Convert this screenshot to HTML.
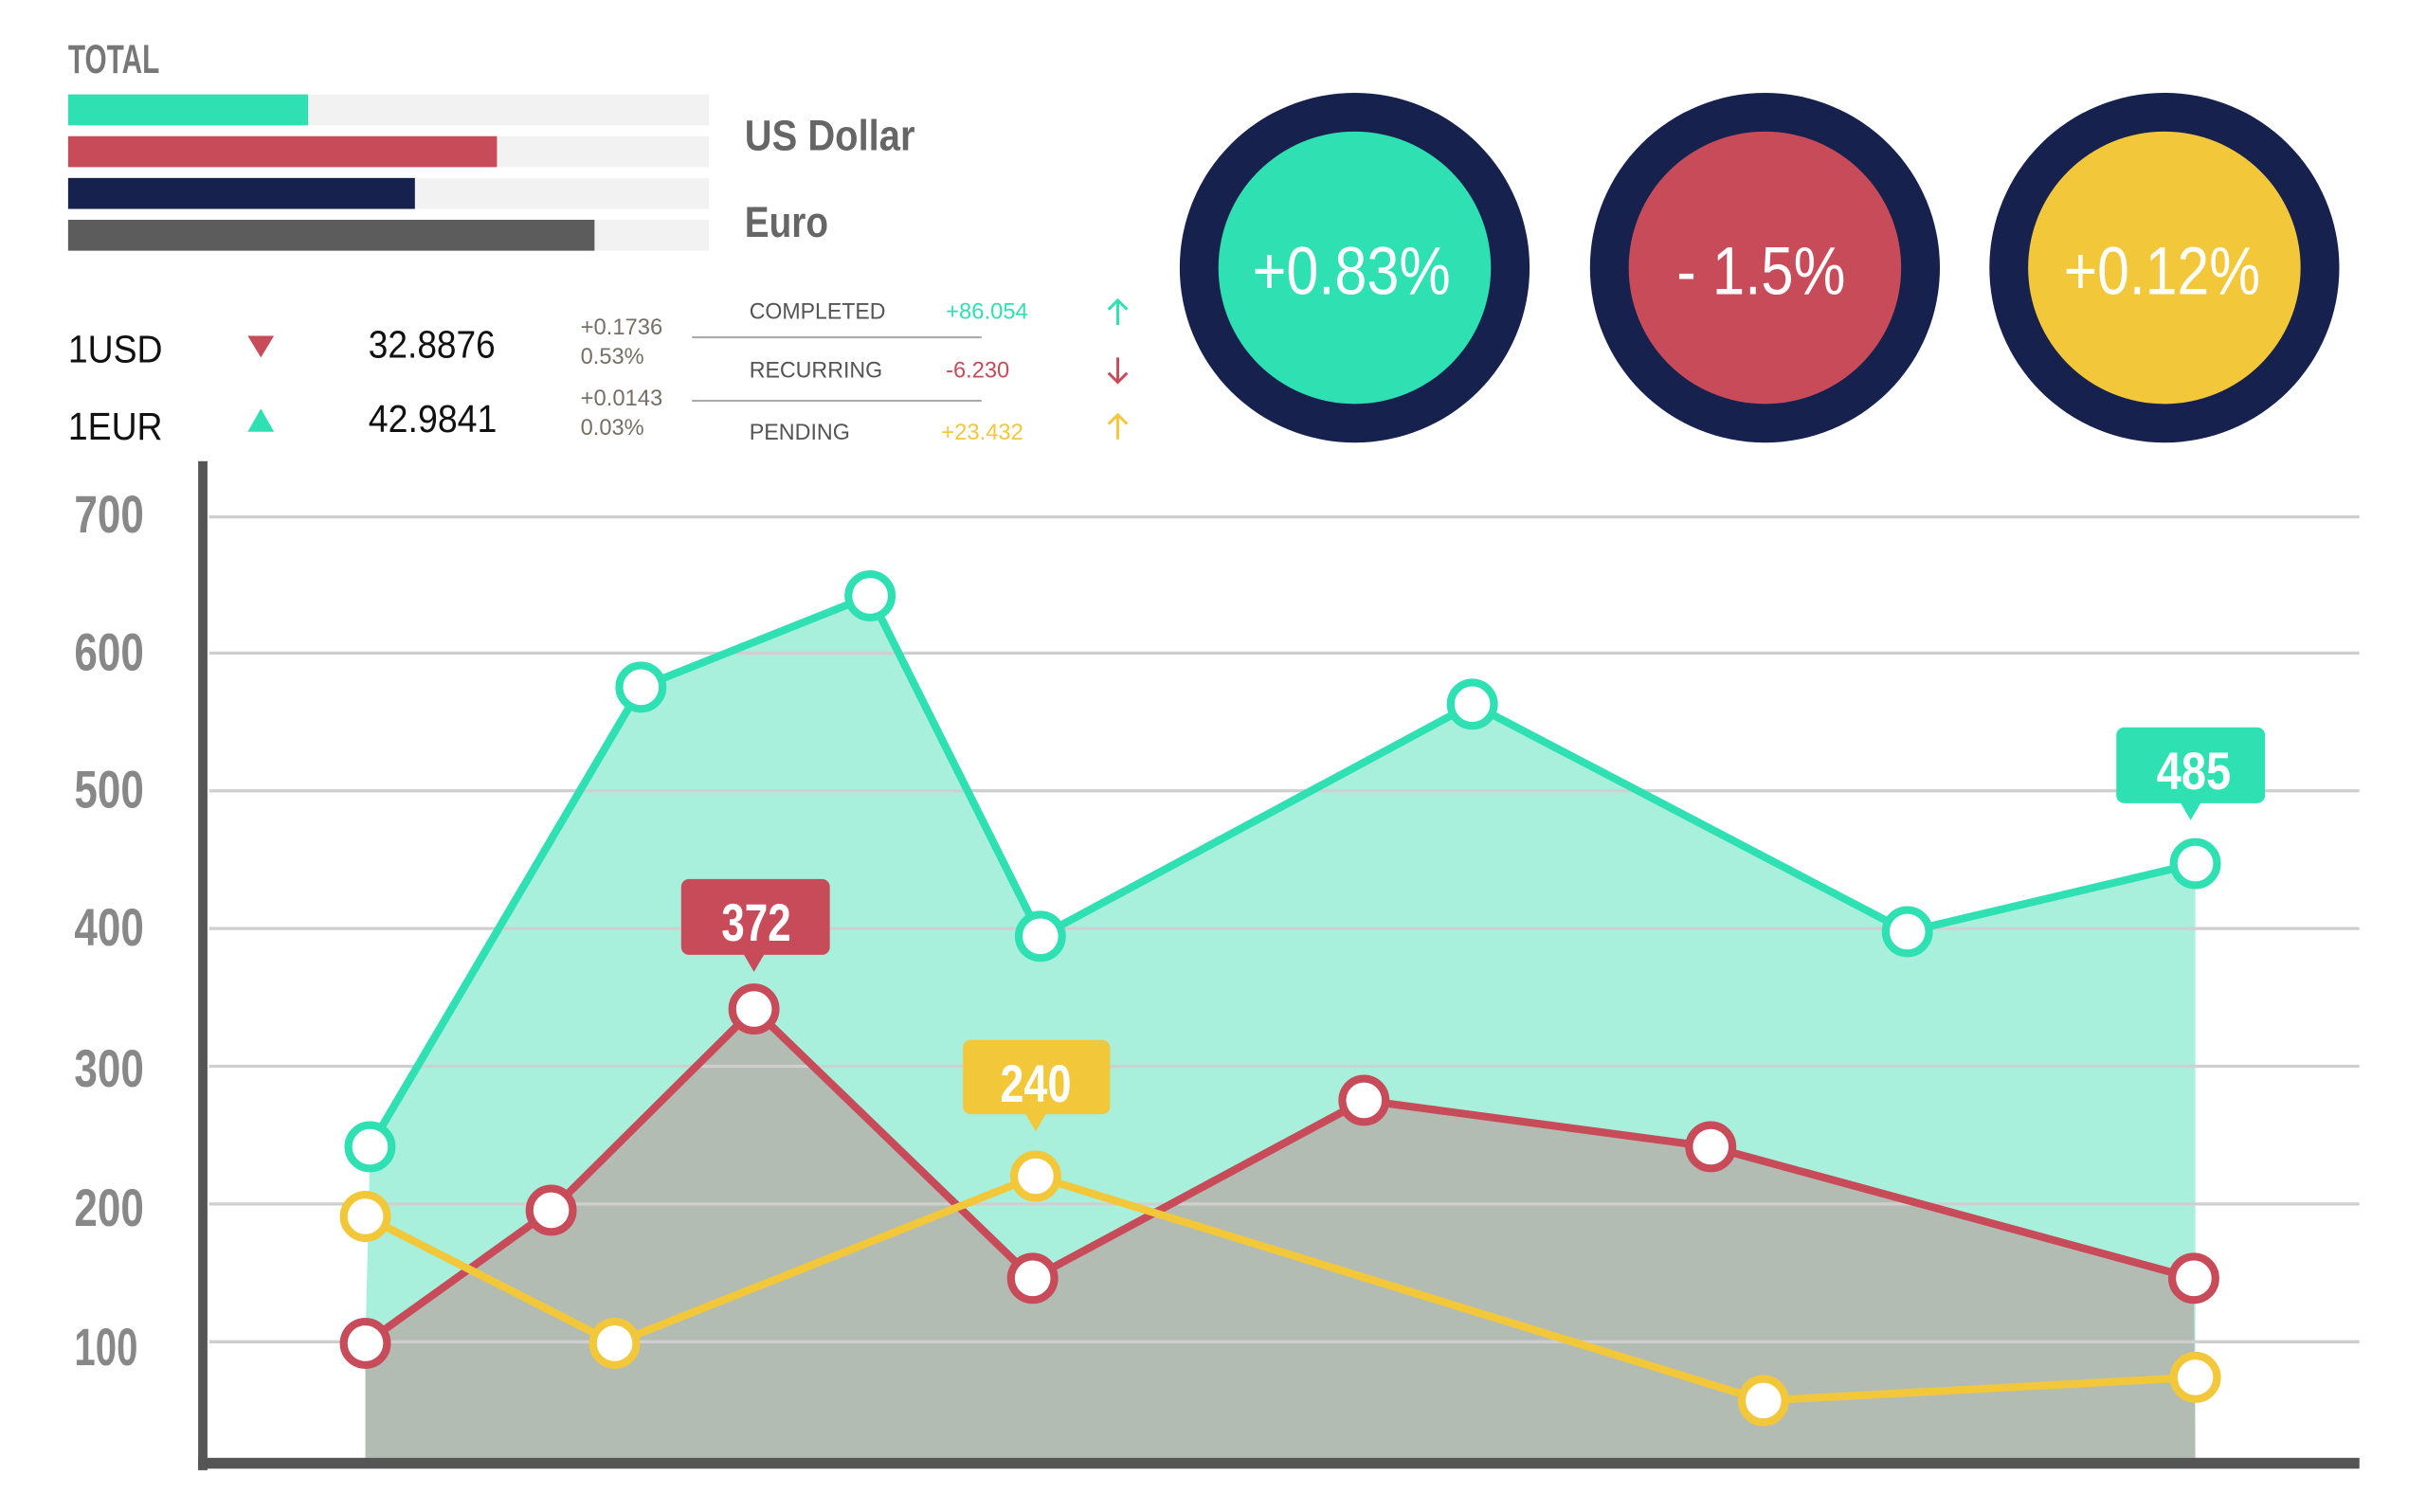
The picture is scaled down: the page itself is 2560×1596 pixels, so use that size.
<!DOCTYPE html>
<html><head><meta charset="utf-8"><style>
html,body{margin:0;padding:0;background:#fff;width:2560px;height:1596px;overflow:hidden}
svg{display:block}
text{font-family:"Liberation Sans Narrow","Liberation Sans",sans-serif}
</style></head><body>
<svg width="2560" height="1596" viewBox="0 0 1567 977" preserveAspectRatio="none">
<text x="44" y="47" font-size="26" font-weight="bold" fill="#777" textLength="59" lengthAdjust="spacingAndGlyphs">TOTAL</text>
<rect x="44" y="61" width="414" height="20" fill="#f2f2f2"/><rect x="44" y="61" width="155" height="20" fill="#2fe0b3"/>
<rect x="44" y="88" width="414" height="20" fill="#f2f2f2"/><rect x="44" y="88" width="277" height="20" fill="#c84b5a"/>
<rect x="44" y="115" width="414" height="20" fill="#f2f2f2"/><rect x="44" y="115" width="224" height="20" fill="#16214d"/>
<rect x="44" y="142" width="414" height="20" fill="#f2f2f2"/><rect x="44" y="142" width="340" height="20" fill="#5c5c5c"/>
<text x="481" y="97" font-size="28" font-weight="bold" fill="#666" textLength="110" lengthAdjust="spacingAndGlyphs">US Dollar</text>
<text x="481" y="153" font-size="28" font-weight="bold" fill="#666" textLength="54" lengthAdjust="spacingAndGlyphs">Euro</text>

<text x="44" y="234" font-size="25" fill="#111" textLength="61" lengthAdjust="spacingAndGlyphs">1USD</text>
<polygon points="160,217 177,217 168.5,231" fill="#c84b5a"/>
<text x="238" y="231" font-size="25" fill="#111" textLength="82" lengthAdjust="spacingAndGlyphs">32.8876</text>
<text x="375" y="216" font-size="15" fill="#776f66" textLength="53" lengthAdjust="spacingAndGlyphs">+0.1736</text>
<text x="375" y="235" font-size="15" fill="#776f66" textLength="41" lengthAdjust="spacingAndGlyphs">0.53%</text>
<text x="44" y="284" font-size="25" fill="#111" textLength="61" lengthAdjust="spacingAndGlyphs">1EUR</text>
<polygon points="160,279 177,279 168.5,264" fill="#2fe0b3"/>
<text x="238" y="279" font-size="25" fill="#111" textLength="83" lengthAdjust="spacingAndGlyphs">42.9841</text>
<text x="375" y="262" font-size="15" fill="#776f66" textLength="53" lengthAdjust="spacingAndGlyphs">+0.0143</text>
<text x="375" y="281" font-size="15" fill="#776f66" textLength="41" lengthAdjust="spacingAndGlyphs">0.03%</text>

<line x1="447" y1="218" x2="634" y2="218" stroke="#aaa" stroke-width="1.3"/>
<line x1="447" y1="259" x2="634" y2="259" stroke="#aaa" stroke-width="1.3"/>
<text x="484" y="206" font-size="15" fill="#555" textLength="88" lengthAdjust="spacingAndGlyphs">COMPLETED</text>
<text x="611" y="206" font-size="15" fill="#2fe0b3" textLength="53" lengthAdjust="spacingAndGlyphs">+86.054</text>
<text x="484" y="244" font-size="15" fill="#555" textLength="86" lengthAdjust="spacingAndGlyphs">RECURRING</text>
<text x="611" y="244" font-size="15" fill="#c84b5a" textLength="41" lengthAdjust="spacingAndGlyphs">-6.230</text>
<text x="484" y="284" font-size="15" fill="#555" textLength="65" lengthAdjust="spacingAndGlyphs">PENDING</text>
<text x="608" y="284" font-size="15" fill="#f3c73a" textLength="53" lengthAdjust="spacingAndGlyphs">+23.432</text>
<g fill="none" stroke-width="1.8">
<path d="M722 210V194M716 200L722 194L728 200" stroke="#2fe0b3"/>
<path d="M722 231V247M716 241L722 247L728 241" stroke="#c84b5a"/>
<path d="M722 284V268M716 274L722 268L728 274" stroke="#f3c73a"/>
</g>

<circle cx="875" cy="173" r="113" fill="#16214d"/><circle cx="875" cy="173" r="88" fill="#2fe0b3"/>
<circle cx="1140" cy="173" r="113" fill="#16214d"/><circle cx="1140" cy="173" r="88" fill="#c84b5a"/>
<circle cx="1398" cy="173" r="113" fill="#16214d"/><circle cx="1398" cy="173" r="88" fill="#f3c73a"/>
<text x="809" y="190" font-size="44" fill="#fff" textLength="128" lengthAdjust="spacingAndGlyphs">+0.83%</text>
<text x="1083" y="190" font-size="44" fill="#fff" textLength="109" lengthAdjust="spacingAndGlyphs">- 1.5%</text>
<text x="1333" y="190" font-size="44" fill="#fff" textLength="127" lengthAdjust="spacingAndGlyphs">+0.12%</text>

<polygon points="236,942 236,868 239,741 414,444 562,385 672,605 951,455 1232,602 1418,558 1418,942" fill="#a8f0dc"/>
<polygon points="236,942 236,868 356,782 487,652 667,826 881,711 1105,741 1417,826 1418,942" fill="#b3bcb3"/>
<g stroke="#cfcfcf" stroke-width="2">
<line x1="135" y1="334" x2="1524" y2="334"/><line x1="135" y1="422" x2="1524" y2="422"/>
<line x1="135" y1="511" x2="1524" y2="511"/><line x1="135" y1="600" x2="1524" y2="600"/>
<line x1="135" y1="689" x2="1524" y2="689"/><line x1="135" y1="778" x2="1524" y2="778"/>
<line x1="135" y1="867" x2="1524" y2="867"/>
</g>
<g fill="#888" font-size="34" font-weight="bold">
<text x="48" y="344" textLength="45" lengthAdjust="spacingAndGlyphs">700</text>
<text x="48" y="433" textLength="45" lengthAdjust="spacingAndGlyphs">600</text>
<text x="48" y="522" textLength="45" lengthAdjust="spacingAndGlyphs">500</text>
<text x="48" y="611" textLength="45" lengthAdjust="spacingAndGlyphs">400</text>
<text x="48" y="702" textLength="45" lengthAdjust="spacingAndGlyphs">300</text>
<text x="48" y="792" textLength="45" lengthAdjust="spacingAndGlyphs">200</text>
<text x="48" y="882" textLength="41" lengthAdjust="spacingAndGlyphs">100</text>
</g>
<rect x="128" y="298" width="6" height="652" fill="#555"/>
<rect x="128" y="942" width="1396" height="7" fill="#555"/>

<g fill="none" stroke-width="5" stroke-linejoin="round">
<polyline points="239,741 414,444 562,385 672,605 951,455 1232,602 1418,558" stroke="#2fe0b3"/>
<polyline points="236,868 356,782 487,652 667,826 881,711 1105,741 1417,826" stroke="#c84b5a"/>
<polyline points="236,786 397,868 669,760 1139,905 1418,890" stroke="#f3c73a"/>
</g>
<g fill="#fff" stroke-width="5">
<g stroke="#2fe0b3"><circle cx="239" cy="741" r="14"/><circle cx="414" cy="444" r="14"/><circle cx="562" cy="385" r="14"/><circle cx="672" cy="605" r="14"/><circle cx="951" cy="455" r="14"/><circle cx="1232" cy="602" r="14"/><circle cx="1418" cy="558" r="14"/></g>
<g stroke="#c84b5a"><circle cx="236" cy="868" r="14"/><circle cx="356" cy="782" r="14"/><circle cx="487" cy="652" r="14"/><circle cx="667" cy="826" r="14"/><circle cx="881" cy="711" r="14"/><circle cx="1105" cy="741" r="14"/><circle cx="1417" cy="826" r="14"/></g>
<g stroke="#f3c73a"><circle cx="236" cy="786" r="14"/><circle cx="397" cy="868" r="14"/><circle cx="669" cy="760" r="14"/><circle cx="1139" cy="905" r="14"/><circle cx="1418" cy="890" r="14"/></g>
</g>

<rect x="440" y="568" width="96" height="49" rx="5" fill="#c84b5a"/><polygon points="480,616 494,616 487,628" fill="#c84b5a"/>
<text x="466" y="608" font-size="34" font-weight="bold" fill="#fff" textLength="45" lengthAdjust="spacingAndGlyphs">372</text>
<rect x="622" y="672" width="95" height="48" rx="5" fill="#f3c73a"/><polygon points="662,719 676,719 669,731" fill="#f3c73a"/>
<text x="646" y="712" font-size="34" font-weight="bold" fill="#fff" textLength="46" lengthAdjust="spacingAndGlyphs">240</text>
<rect x="1367" y="470" width="96" height="49" rx="5" fill="#2fe0b3"/><polygon points="1408,518 1422,518 1415,530" fill="#2fe0b3"/>
<text x="1393" y="510" font-size="34" font-weight="bold" fill="#fff" textLength="48" lengthAdjust="spacingAndGlyphs">485</text>
</svg>
</body></html>
